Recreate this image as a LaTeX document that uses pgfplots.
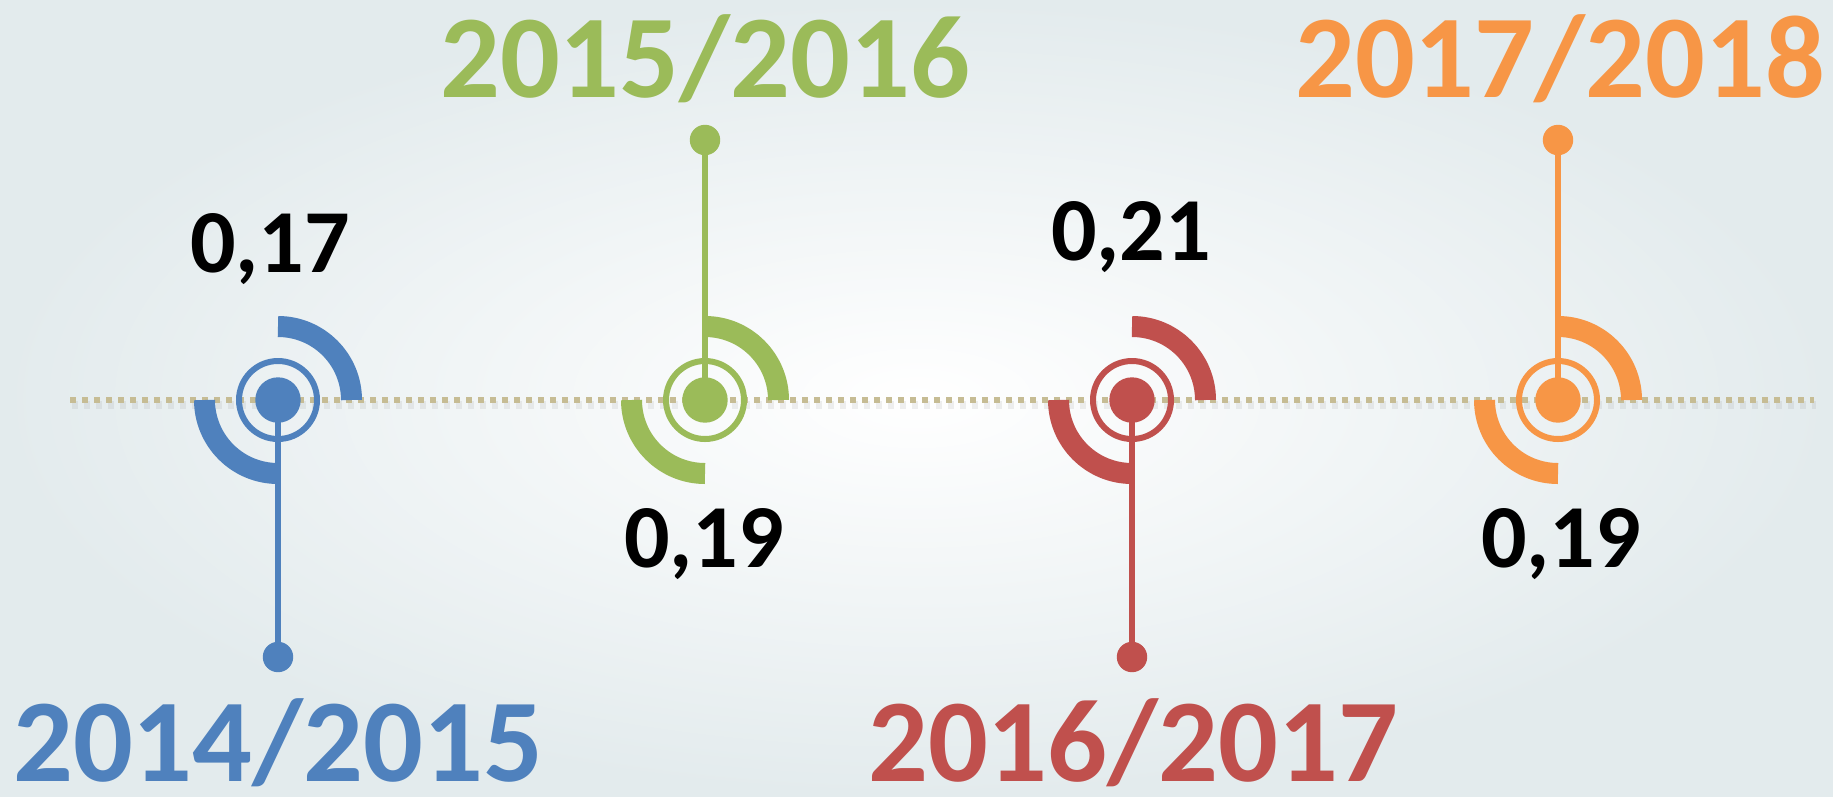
\documentclass[border=0pt]{standalone}
\usepackage{pgfplots}
\pgfplotsset{compat=1.18}
\usepackage{fontspec}
\setmainfont{Carlito}
\definecolor{cblue}{HTML}{4F81BD}
\definecolor{cgreen}{HTML}{9BBB59}
\definecolor{cred}{HTML}{C0504D}
\definecolor{corange}{HTML}{F79646}
\definecolor{ctan}{HTML}{C6BC94}
\definecolor{bgedge}{HTML}{E3EBED}
\newcommand{\yearfont}{\bfseries\fontsize{33.6pt}{38pt}\selectfont}
\newcommand{\valfont}{\bfseries\fontsize{25.6pt}{30pt}\selectfont}
\begin{document}
\begin{tikzpicture}
\shade[inner color=white, outer color=bgedge] (0,0) rectangle (18.33cm,7.96cm);
\begin{axis}[at={(0,0)}, anchor=south west, scale only axis,
  width=18.33cm, height=7.96cm,
  xmin=0, xmax=1833, ymin=0, ymax=796, y dir=reverse,
  hide axis, clip=false,
  /pgf/number format/assume math mode=true]
% timeline (dotted) with soft shadow
\addplot[gray, opacity=0.12, line width=0.8mm, dash pattern=on 0.6mm off 0.6mm, forget plot] coordinates {(72,405) (1816,405)};
\addplot[ctan, line width=0.6mm, dash pattern=on 0.6mm off 0.6mm, forget plot] coordinates {(70,400) (1814,400)};
% stems
\addplot[cblue, line width=0.55mm] coordinates {(278,400) (278,657)};
\addplot[cgreen, line width=0.55mm] coordinates {(705,400) (705,140)};
\addplot[cred, line width=0.55mm] coordinates {(1132,400) (1132,657)};
\addplot[corange, line width=0.55mm] coordinates {(1558,400) (1558,140)};
% end dots
\addplot[only marks, mark=*, mark size=1.45mm, cblue] coordinates {(278,657)};
\addplot[only marks, mark=*, mark size=1.45mm, cgreen] coordinates {(705,140)};
\addplot[only marks, mark=*, mark size=1.45mm, cred] coordinates {(1132,657)};
\addplot[only marks, mark=*, mark size=1.45mm, corange] coordinates {(1558,140)};
% center dots
\addplot[only marks, mark=*, mark size=2.2mm, cblue] coordinates {(278,400)};
\addplot[only marks, mark=*, mark size=2.2mm, cgreen] coordinates {(705,400)};
\addplot[only marks, mark=*, mark size=2.2mm, cred] coordinates {(1132,400)};
\addplot[only marks, mark=*, mark size=2.2mm, corange] coordinates {(1558,400)};
% rings and arcs
\foreach \xx/\cc in {278/cblue, 705/cgreen, 1132/cred, 1558/corange}{
  \edef\tmp{\noexpand\draw[\cc, line width=0.6mm] (axis cs:\xx,400) circle[radius=0.39cm];}\tmp
  \edef\tmp{\noexpand\draw[\cc, line width=2.1mm] ([shift={(0.735cm,0)}]axis cs:\xx,400) arc[start angle=0, end angle=90, radius=0.735cm];}\tmp
  \edef\tmp{\noexpand\draw[\cc, line width=2.1mm] ([shift={(-0.735cm,0)}]axis cs:\xx,400) arc[start angle=180, end angle=270, radius=0.735cm];}\tmp
}
% values
\node[anchor=base, inner sep=0pt] at (axis cs:270,272) {\valfont\pgfmathprintnumber[fixed, fixed zerofill, precision=2, use comma]{0.17}};
\node[anchor=base, inner sep=0pt] at (axis cs:704,567) {\valfont\pgfmathprintnumber[fixed, fixed zerofill, precision=2, use comma]{0.19}};
\node[anchor=base, inner sep=0pt] at (axis cs:1131,260) {\valfont\pgfmathprintnumber[fixed, fixed zerofill, precision=2, use comma]{0.21}};
\node[anchor=base, inner sep=0pt] at (axis cs:1561,567) {\valfont\pgfmathprintnumber[fixed, fixed zerofill, precision=2, use comma]{0.19}};
% years
\node[anchor=base, inner sep=0pt, text=cblue] at (axis cs:278,781) {\yearfont 2014/2015};
\node[anchor=base, inner sep=0pt, text=cgreen] at (axis cs:705,97) {\yearfont 2015/2016};
\node[anchor=base, inner sep=0pt, text=cred] at (axis cs:1133,781) {\yearfont 2016/2017};
\node[anchor=base, inner sep=0pt, text=corange] at (axis cs:1560,97) {\yearfont 2017/2018};
\end{axis}
\pgfresetboundingbox
\path[use as bounding box] (0,0) rectangle (18.33cm,7.96cm);
\end{tikzpicture}
\end{document}
